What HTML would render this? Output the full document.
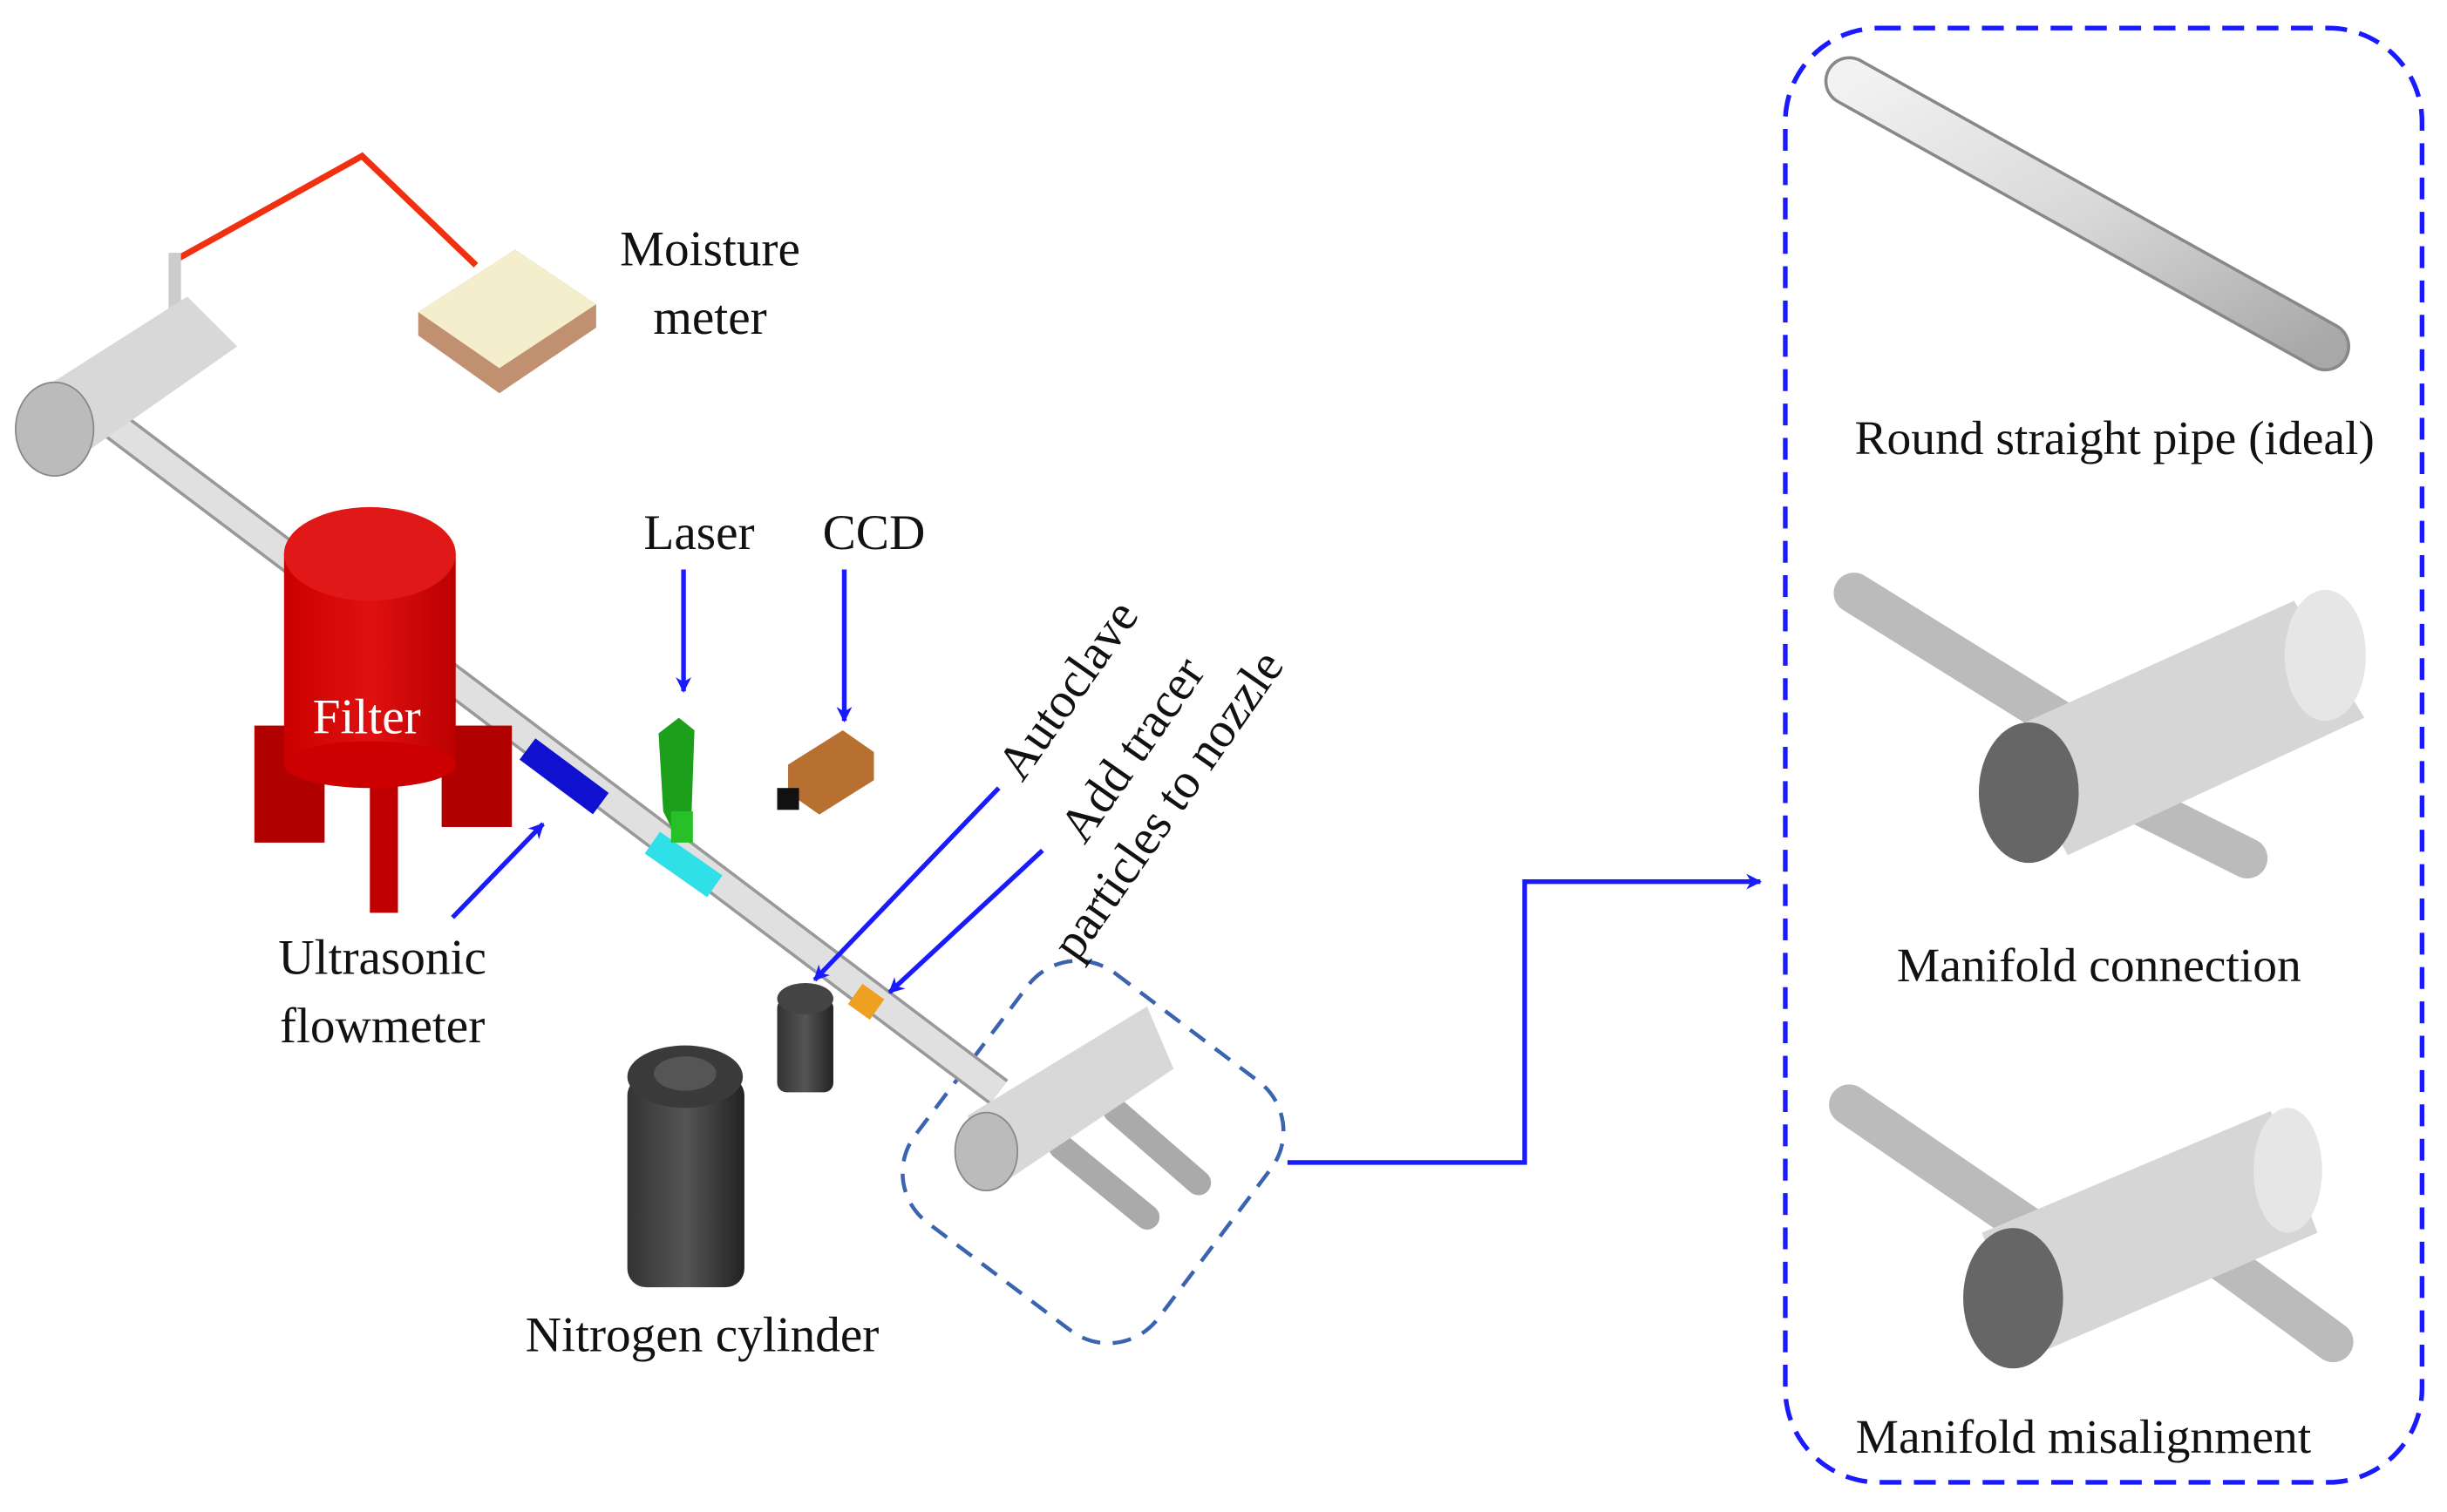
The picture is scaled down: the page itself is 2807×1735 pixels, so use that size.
<!DOCTYPE html>
<html><head><meta charset="utf-8"><style>
html,body{margin:0;padding:0;background:#fff;}
svg{display:block;}
text{font-family:"Liberation Serif",serif;fill:#111;}
</style></head><body>
<svg width="2807" height="1735" viewBox="0 0 1568 969" preserveAspectRatio="none" xmlns="http://www.w3.org/2000/svg">
<defs>
<linearGradient id="pg" x1="0" y1="0" x2="1" y2="1"><stop offset="0" stop-color="#f2f2f2"/><stop offset="0.5" stop-color="#d8d8d8"/><stop offset="1" stop-color="#a8a8a8"/></linearGradient>
<linearGradient id="rg" x1="0" x2="1"><stop offset="0" stop-color="#c00"/><stop offset="0.5" stop-color="#e01010"/><stop offset="1" stop-color="#b00"/></linearGradient>
<linearGradient id="dg" x1="0" x2="1"><stop offset="0" stop-color="#333"/><stop offset="0.5" stop-color="#555"/><stop offset="1" stop-color="#222"/></linearGradient>
<marker id="ar" markerWidth="10" markerHeight="10" refX="9" refY="5" orient="auto" markerUnits="userSpaceOnUse"><path d="M0,0 L10,5 L0,10 L3,5 z" fill="#1a1aff"/></marker>
</defs>

<rect x="1144" y="18" width="408" height="932" rx="60" fill="none" stroke="#1a1aff" stroke-width="3" stroke-dasharray="14,8"/>
<line x1="1185" y1="52" x2="1490" y2="222" stroke="#888" stroke-width="32" stroke-linecap="round"/>
<line x1="1185" y1="52" x2="1490" y2="222" stroke="url(#pg)" stroke-width="28" stroke-linecap="round"/>
<text x="1355" y="291" font-size="31" text-anchor="middle">Round straight pipe (ideal)</text>

<line x1="1188" y1="380" x2="1320" y2="462" stroke="#bbb" stroke-width="26" stroke-linecap="round"/>
<line x1="1340" y1="500" x2="1440" y2="550" stroke="#bbb" stroke-width="26" stroke-linecap="round"/>
<polygon points="1282,470 1470,385 1515,460 1325,548" fill="#d6d6d6"/>
<ellipse cx="1300" cy="508" rx="32" ry="45" fill="#666"/>
<ellipse cx="1490" cy="420" rx="26" ry="42" fill="#e6e6e6"/>
<text x="1345" y="629" font-size="31" text-anchor="middle">Manifold connection</text>

<line x1="1185" y1="708" x2="1305" y2="790" stroke="#bbb" stroke-width="26" stroke-linecap="round"/>
<line x1="1420" y1="805" x2="1495" y2="860" stroke="#bbb" stroke-width="26" stroke-linecap="round"/>
<polygon points="1270,790 1455,712 1485,790 1300,870" fill="#d6d6d6"/>
<ellipse cx="1290" cy="832" rx="32" ry="45" fill="#666"/>
<ellipse cx="1466" cy="750" rx="22" ry="40" fill="#e6e6e6"/>
<text x="1335" y="931" font-size="31" text-anchor="middle">Manifold misalignment</text>

<polyline points="825,745 977,745 977,565 1128,565" fill="none" stroke="#1a1aff" stroke-width="3" marker-end="url(#ar)"/>
<rect x="603" y="638" width="195" height="200" rx="40" transform="rotate(37 700 738)" fill="none" stroke="#3a64b0" stroke-width="2.5" stroke-dasharray="12,8"/>

<polyline points="110,168 232,100 305,170" fill="none" stroke="#f03010" stroke-width="4"/>
<polygon points="268,200 330,160 382,195 382,210 320,252 268,215" fill="#c09070"/>
<polygon points="268,200 330,160 382,195 320,236" fill="#f5eecc"/>
<text x="455" y="170" font-size="32" text-anchor="middle">Moisture</text>
<text x="455" y="214" font-size="32" text-anchor="middle">meter</text>

<line x1="70" y1="270" x2="640" y2="700" stroke="#999" stroke-width="20"/>
<line x1="70" y1="270" x2="640" y2="700" stroke="#e0e0e0" stroke-width="16"/>
<rect x="108" y="162" width="8" height="40" fill="#ccc"/>
<polygon points="18,255 120,190 152,222 52,292" fill="#d8d8d8"/>
<ellipse cx="35" cy="275" rx="25" ry="30" fill="#bbb" stroke="#888"/>
<line x1="338" y1="480" x2="385" y2="515" stroke="#1010d0" stroke-width="17"/>
<line x1="418" y1="540" x2="458" y2="568" stroke="#30e0e8" stroke-width="17"/>
<line x1="548" y1="637" x2="562" y2="647" stroke="#f0a020" stroke-width="16"/>
<rect x="163" y="465" width="45" height="75" fill="#b00000"/>
<rect x="283" y="465" width="45" height="65" fill="#b00000"/>
<rect x="237" y="500" width="18" height="85" fill="#c00000"/>
<rect x="182" y="355" width="110" height="135" fill="url(#rg)"/>
<ellipse cx="237" cy="490" rx="55" ry="15" fill="#c00"/>
<ellipse cx="237" cy="355" rx="55" ry="30" fill="#e01818"/>
<text x="235" y="470" font-size="32" text-anchor="middle" style="fill:#fff">Filter</text>
<polygon points="422,470 435,460 445,468 443,525 430,530 425,520" fill="#1ca01c"/>
<rect x="430" y="520" width="14" height="20" fill="#28c028"/>
<text x="448" y="352" font-size="32" text-anchor="middle">Laser</text>
<line x1="438" y1="365" x2="438" y2="443" stroke="#1a1aff" stroke-width="3" marker-end="url(#ar)"/>
<polygon points="505,490 540,468 560,482 560,500 525,522 505,508" fill="#b87030"/>
<rect x="498" y="505" width="14" height="14" fill="#111"/>
<text x="560" y="352" font-size="32" text-anchor="middle">CCD</text>
<line x1="541" y1="365" x2="541" y2="462" stroke="#1a1aff" stroke-width="3" marker-end="url(#ar)"/>
<rect x="498" y="640" width="36" height="60" rx="6" fill="url(#dg)"/>
<ellipse cx="516" cy="640" rx="18" ry="10" fill="#444"/>
<rect x="402" y="690" width="75" height="135" rx="12" fill="url(#dg)"/>
<ellipse cx="439" cy="690" rx="37" ry="20" fill="#3a3a3a"/>
<ellipse cx="439" cy="688" rx="20" ry="11" fill="#555"/>
<text x="450" y="866" font-size="32" text-anchor="middle">Nitrogen cylinder</text>
<line x1="680" y1="735" x2="735" y2="780" stroke="#aaa" stroke-width="16" stroke-linecap="round"/>
<line x1="715" y1="712" x2="768" y2="758" stroke="#aaa" stroke-width="16" stroke-linecap="round"/>
<polygon points="620,715 735,645 752,685 640,760" fill="#d8d8d8"/>
<ellipse cx="632" cy="738" rx="20" ry="25" fill="#bbb" stroke="#888"/>
<text x="245" y="624" font-size="32" text-anchor="middle">Ultrasonic</text>
<text x="245" y="668" font-size="32" text-anchor="middle">flowmeter</text>
<line x1="290" y1="588" x2="348" y2="528" stroke="#1a1aff" stroke-width="3" marker-end="url(#ar)"/>
<text x="655" y="502" font-size="32" transform="rotate(-55 655 502)">Autoclave</text>
<text x="695" y="542" font-size="32" transform="rotate(-55 695 542)">Add tracer</text>
<text x="690" y="617" font-size="32" transform="rotate(-55 690 617)">particles to nozzle</text>
<line x1="640" y1="505" x2="522" y2="628" stroke="#1a1aff" stroke-width="3" marker-end="url(#ar)"/>
<line x1="668" y1="545" x2="570" y2="636" stroke="#1a1aff" stroke-width="3" marker-end="url(#ar)"/>
</svg>
</body></html>
